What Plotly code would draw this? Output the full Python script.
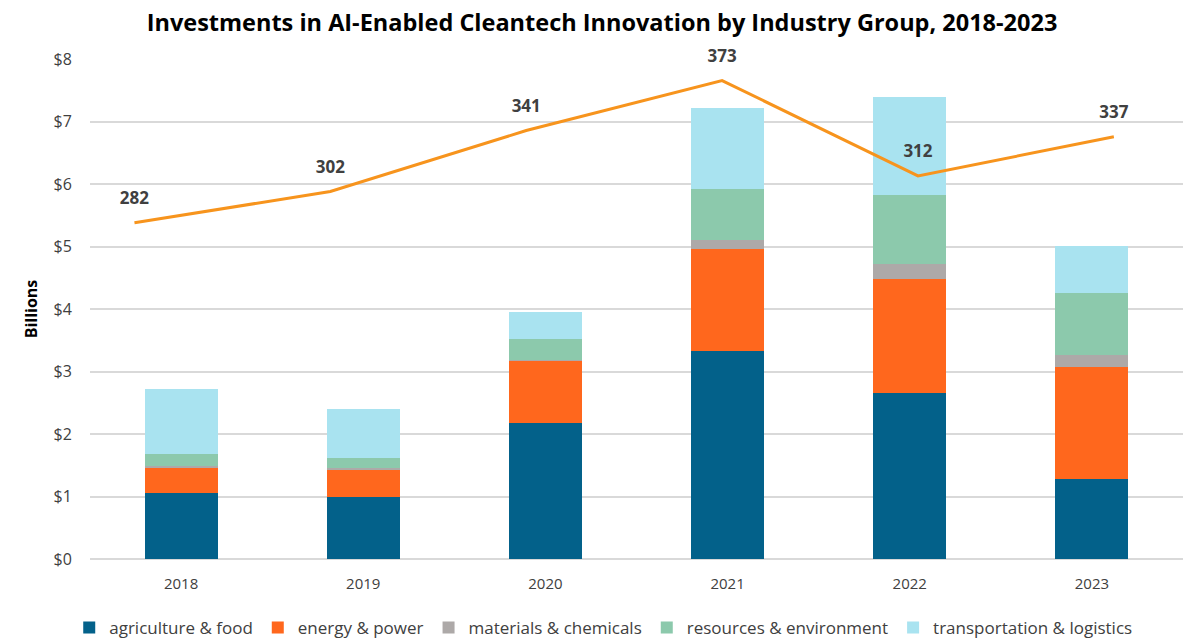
import plotly.graph_objects as go

years = ["2018", "2019", "2020", "2021", "2022", "2023"]
agriculture_food = [1.05, 1.00, 2.17, 3.33, 2.65, 1.285]
energy_power = [0.42, 0.435, 1.00, 1.635, 1.835, 1.785]
materials_chemicals = [0.02, 0.025, 0.02, 0.135, 0.23, 0.195]
resources_environment = [0.19, 0.16, 0.335, 0.825, 1.11, 0.995]
transportation_logistics = [1.045, 0.78, 0.425, 1.29, 1.575, 0.75]
deal_counts = [282, 302, 341, 373, 312, 337]

series = [
    ("agriculture & food", agriculture_food, "#03618A"),
    ("energy & power", energy_power, "#FF671D"),
    ("materials & chemicals", materials_chemicals, "#ADA9A8"),
    ("resources & environment", resources_environment, "#8CC9AC"),
    ("transportation & logistics", transportation_logistics, "#A9E3F0"),
]

fig = go.Figure()
for name, vals, color in series:
    fig.add_trace(go.Bar(
        x=years, y=vals, name=name,
        marker=dict(color=color, line=dict(width=0)),
        width=0.4,
    ))

fig.add_trace(go.Scatter(
    x=years, y=deal_counts, mode="lines",
    line=dict(color="#F7941D", width=3),
    xaxis="x2", yaxis="y2", showlegend=False, cliponaxis=False,
))
fig.add_trace(go.Scatter(
    x=years, y=deal_counts, mode="markers+text",
    marker=dict(size=22, color="rgba(0,0,0,0)"),
    text=[f"<b>{c}</b>" for c in deal_counts], textposition="top center",
    textfont=dict(family="Open Sans", size=17, color="#404040"),
    xaxis="x2", yaxis="y2", showlegend=False, cliponaxis=False,
))

hidden = dict(showticklabels=False, showgrid=False, showline=False, zeroline=False, ticks="")

fig.update_layout(
    barmode="stack",
    width=1201, height=641,
    paper_bgcolor="white", plot_bgcolor="white",
    margin=dict(l=82, r=26, t=51, b=90, autoexpand=False),
    title=dict(
        text="<b>Investments in AI-Enabled Cleantech Innovation by Industry Group, 2018-2023</b>",
        x=0.4946, xanchor="center", xref="container", y=0.977, yanchor="middle",
        font=dict(family="Open Sans", size=23.5, color="black"),
    ),
    font=dict(family="Open Sans", color="#404040"),
    xaxis=dict(
        type="category", showgrid=False, showline=False, automargin=False,
        tickfont=dict(size=15, color="#404040"),
        ticks="outside", ticklen=11, tickcolor="rgba(0,0,0,0)",
    ),
    yaxis=dict(
        range=[0, 8], dtick=1, tickprefix="$", automargin=False,
        showgrid=True, gridcolor="#D9D9D9", gridwidth=1.5,
        zeroline=True, zerolinecolor="#D9D9D9", zerolinewidth=1.5,
        tickfont=dict(size=16, color="#404040"),
        ticks="outside", ticklen=14, tickcolor="rgba(0,0,0,0)",
        title=dict(text="<b>Billions</b>", font=dict(size=16, color="black"), standoff=11),
    ),
    xaxis2=dict(type="category", overlaying="x", range=[-0.227, 5.353], automargin=False, **hidden),
    yaxis2=dict(overlaying="y", range=[66.8, 386.8], side="right", automargin=False, **hidden),
    legend=dict(
        orientation="h", x=-0.019, xanchor="left", y=-0.102, yanchor="top",
        font=dict(size=17, color="#404040"), traceorder="normal",
        itemwidth=30,
    ),
    bargap=0.6,
)

fig.write_html("out.html")
